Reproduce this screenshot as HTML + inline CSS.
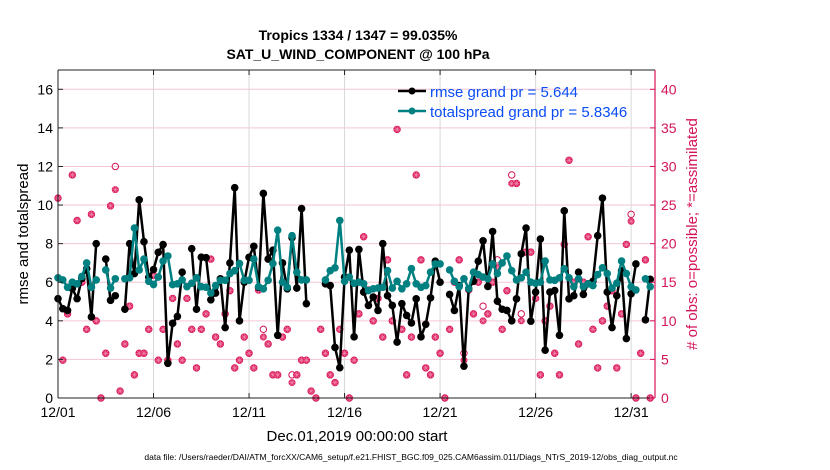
<!DOCTYPE html>
<html><head><meta charset="utf-8"><style>
body{margin:0;background:#fff;}
svg{display:block;font-family:"Liberation Sans",Arial,sans-serif;}
</style></head><body>
<svg id="chart" width="830" height="470" viewBox="0 0 830 470" xmlns="http://www.w3.org/2000/svg">
<g id="grid"></g>
<g id="obs"></g>
<g id="lines"></g>
<g id="axes"></g>
<text x="358" y="40" text-anchor="middle" font-size="14" font-weight="bold">Tropics 1334 / 1347 = 99.035%</text>
<text x="358" y="59" text-anchor="middle" font-size="14" font-weight="bold">SAT_U_WIND_COMPONENT @ 100 hPa</text>
<text transform="translate(28,234) rotate(-90)" text-anchor="middle" font-size="15">rmse and totalspread</text>
<text transform="translate(697,234) rotate(-90)" text-anchor="middle" font-size="15" fill="#d4145a"># of obs: o=possible; *=assimilated</text>
<text x="357" y="441" text-anchor="middle" font-size="15">Dec.01,2019 00:00:00 start</text>
<text x="411" y="460" text-anchor="middle" font-size="8.5">data file: /Users/raeder/DAI/ATM_forcXX/CAM6_setup/f.e21.FHIST_BGC.f09_025.CAM6assim.011/Diags_NTrS_2019-12/obs_diag_output.nc</text>
<g>
<line x1="398" y1="91" x2="426" y2="91" stroke="#000" stroke-width="2.5"/>
<circle cx="412" cy="91" r="3.5" fill="#000"/>
<text x="430" y="97" font-size="15" fill="#0a4cf5">rmse grand pr = 5.644</text>
<line x1="398" y1="111" x2="426" y2="111" stroke="#008080" stroke-width="2.5"/>
<circle cx="412" cy="111" r="3.5" fill="#008080"/>
<text x="430" y="117" font-size="15" fill="#0a4cf5">totalspread grand pr = 5.8346</text>
</g>
</svg>
<script>
const rmse = [5.15,4.63,4.54,5.68,5.15,6.2,6.7,4.2,8.0,null,7.2,5.06,5.3,null,4.6,8.0,6.45,10.27,8.1,6.26,6.66,7.55,7.95,1.8,3.87,4.23,6.52,null,7.74,4.6,7.3,7.27,5.09,5.44,6.18,3.65,7.0,10.9,4.0,6.0,7.29,7.86,5.74,10.6,7.2,7.66,3.25,7.0,5.66,8.31,5.7,9.82,4.89,null,null,null,5.92,5.83,2.62,1.57,6.27,7.66,3.17,7.7,5.49,4.8,5.23,4.54,8.0,5.3,4.8,2.9,4.89,4.28,3.89,5.14,3.17,3.82,5.19,7.09,6.0,null,5.37,4.54,5.83,1.65,5.66,6.05,7.09,8.15,5.78,8.63,5.02,4.6,4.54,4.0,5.14,7.47,8.81,3.98,5.49,8.24,2.48,5.49,5.57,3.25,9.7,5.14,5.3,6.52,5.37,5.92,6.05,8.41,10.36,5.49,3.65,5.3,6.6,3.08,5.4,6.95,null,4.05,6.15];
const spread = [6.23,6.12,5.74,6.0,5.92,6.3,7.0,5.74,6.12,null,6.64,5.7,6.18,null,6.18,6.23,8.81,6.64,7.2,6.05,5.88,6.27,7.1,7.36,5.88,5.92,6.12,5.77,5.95,6.23,5.77,5.74,5.44,5.83,6.1,6.1,6.45,6.6,6.97,6.1,6.1,7.2,5.77,5.66,6.1,6.97,8.7,6.0,5.74,8.41,6.52,6.12,6.12,null,null,null,6.12,6.6,6.75,9.2,6.05,6.27,5.95,6.0,5.92,5.57,5.66,5.7,5.74,6.6,5.7,6.05,5.66,5.92,6.7,5.92,5.74,5.83,6.52,6.95,6.95,null,6.64,6.05,5.77,6.18,5.66,6.52,6.4,6.27,6.18,6.95,6.45,7.0,7.36,6.6,6.12,6.23,6.52,6.0,5.95,6.0,7.1,6.12,6.1,6.23,6.7,6.23,5.77,6.18,5.77,5.92,5.83,6.4,6.75,6.45,5.7,5.95,7.1,6.45,5.77,5.6,null,6.18,5.77];
const obsAssim = [25.9,4.9,10.9,28.9,23,15,8.9,23.8,10,0,5.8,24.9,27,0.9,7,11.9,3,5.8,5.8,8.9,15.9,4.9,8.9,4.9,12.9,7,4.9,12.9,8.9,3.9,8.9,10.9,18,7.9,7,10.9,13.9,3.9,4.9,7.9,5.8,3.9,14,7.9,7,3,3,7.9,8.9,2,3,4.9,4.9,0.9,0,8.9,5.8,3,2,8.9,5.8,0,4.9,10.9,20.9,14,10,12.9,7.9,17.9,10,34.8,8.9,3,7.9,28.9,17.9,3.9,3,7.9,5.8,0,8.9,15,17.9,4.9,14,10.9,15,10,10.9,15,16.9,8.9,13.9,27.8,27.8,10,18.9,18.9,12.9,3,10,11.9,5.8,3,19.9,30.8,15,7,15,20.9,8.9,3.9,10,11.9,13.9,3.9,10.9,19.9,22.9,0,5.8,17.9,0];
const obsPossible = [25.9,4.9,10.9,28.9,23,15,8.9,23.8,10,0,5.8,24.9,30,0.9,7,11.9,3,5.8,5.8,8.9,15.9,4.9,8.9,4.9,12.9,7,4.9,12.9,8.9,3.9,8.9,10.9,18,7.9,7,10.9,13.9,3.9,4.9,7.9,5.8,3.9,14,8.9,7,3,3,7.9,8.9,3,3,4.9,4.9,0.9,0,8.9,5.8,3,2,8.9,5.8,0,4.9,10.9,20.9,14,10,12.9,7.9,17.9,10,34.8,8.9,3,7.9,28.9,17.9,3.9,3,7.9,5.8,0,8.9,15,17.9,5.8,14,10.9,15,11.9,10.9,15,17.9,8.9,13.9,28.9,27.8,10.9,18.9,18.9,12.9,3,10,11.9,5.8,3,19.9,30.8,15,7,15,20.9,8.9,3.9,10,11.9,13.9,3.9,10.9,19.9,23.8,0,5.8,17.9,0];
const xTickDays = [0,5,10,15,20,25,30];
const xTickLabels = ["12/01","12/06","12/11","12/16","12/21","12/26","12/31"];
const yTicks = [0,2,4,6,8,10,12,14,16];
const y2Ticks = [0,5,10,15,20,25,30,35,40];

const NS="http://www.w3.org/2000/svg";
const L=58,R=655,T=70,B=398;
const xIdx=i=>L+(i/125)*(R-L);
const xDay=d=>xIdx(d*4);
const yL=v=>B-(v/17)*(B-T);
const yR=v=>B-(v/42.5)*(B-T);
function mk(tag,attrs,parent){const e=document.createElementNS(NS,tag);for(const k in attrs)e.setAttribute(k,attrs[k]);parent.appendChild(e);return e;}
const grid=document.getElementById('grid'),axes=document.getElementById('axes'),lines=document.getElementById('lines'),obs=document.getElementById('obs');

mk('rect',{x:L,y:T,width:R-L,height:B-T,fill:'#fff'},grid);
y2Ticks.forEach(v=>{const g=mk('line',{x1:L,x2:R,y1:yR(v),y2:yR(v),stroke:'#f3c6d6','stroke-width':1},grid);

});
xTickDays.forEach(d=>{const g=mk('line',{x1:xDay(d),x2:xDay(d),y1:T,y2:B,stroke:'#d8d8d8','stroke-width':1},grid);

});

obsPossible.forEach((v,i)=>{if(v==null)return;const c=mk('circle',{cx:xIdx(i),cy:yR(v),r:3.2,fill:'none',stroke:'#d4145a','stroke-width':1},obs);

});
obsAssim.forEach((v,i)=>{if(v==null)return;const x=xIdx(i),y=yR(v);
const g=mk('g',{},obs);


mk('circle',{cx:x,cy:y,r:3.5,fill:'#dc1d5f'},g);
[[3,0],[0,3],[2.2,2.2],[2.2,-2.2]].forEach(([dx,dy])=>mk('line',{x1:x-dx,y1:y-dy,x2:x+dx,y2:y+dy,stroke:'#f08aac','stroke-width':0.6},g));});

function series(arr,color,name,mr){
  let d='',pen=false;
  arr.forEach((v,i)=>{if(v==null){pen=false;return;}d+=(pen?'L':'M')+xIdx(i).toFixed(1)+' '+yL(v).toFixed(1);pen=true;});
  const p=mk('path',{d:d,fill:'none',stroke:color,'stroke-width':2.5,'stroke-linejoin':'round'},lines);
  
  
  arr.forEach((v,i)=>{if(v==null)return;const c=mk('circle',{cx:xIdx(i),cy:yL(v),r:mr,fill:color},lines);
  
  });
}
series(rmse,'#000','rmse',3.8);
series(spread,'#008080','totalspread',3.8);

mk('line',{x1:L,y1:T,x2:R,y2:T,stroke:'#222','stroke-width':1},axes);
mk('line',{x1:L,y1:B,x2:R,y2:B,stroke:'#222','stroke-width':1},axes);
mk('line',{x1:L,y1:T,x2:L,y2:B,stroke:'#222','stroke-width':1},axes);
mk('line',{x1:R,y1:T,x2:R,y2:B,stroke:'#d4145a','stroke-width':1.2},axes);
yTicks.forEach(v=>{mk('line',{x1:L,x2:L+5,y1:yL(v),y2:yL(v),stroke:'#222'},axes);
const t=mk('text',{x:L-5,y:yL(v)+5,'text-anchor':'end','font-size':14},axes);t.textContent=v;

});
y2Ticks.forEach(v=>{mk('line',{x1:R-5,x2:R,y1:yR(v),y2:yR(v),stroke:'#d4145a'},axes);
const t=mk('text',{x:R+6,y:yR(v)+5,'font-size':14,fill:'#d4145a'},axes);t.textContent=v;

});
xTickDays.forEach((d,k)=>{mk('line',{x1:xDay(d),x2:xDay(d),y1:B,y2:B-5,stroke:'#222'},axes);
mk('line',{x1:xDay(d),x2:xDay(d),y1:T,y2:T+5,stroke:'#222'},axes);
const t=mk('text',{x:xDay(d),y:B+19,'text-anchor':'middle','font-size':14},axes);t.textContent=xTickLabels[k];

});
</script>
</body></html>
